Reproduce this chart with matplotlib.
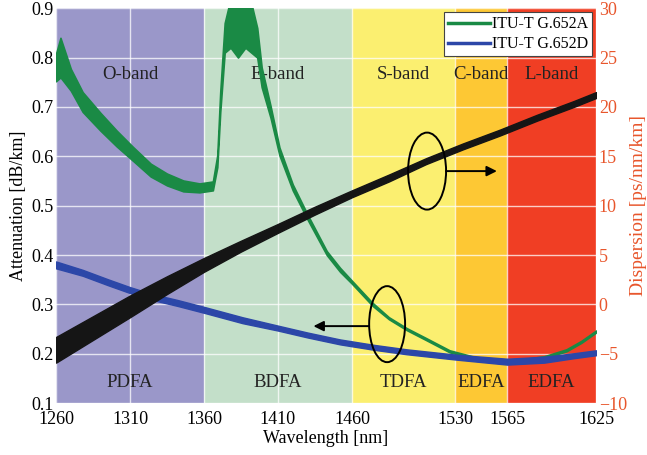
import matplotlib
matplotlib.use("Agg")
from matplotlib import pyplot as plt
from matplotlib.patches import Ellipse
from matplotlib.lines import Line2D
import numpy as np

plt.rcParams["font.family"] = ["Liberation Serif", "DejaVu Serif"]
plt.rcParams["font.size"] = 13

# bands
band_edges = [1260, 1360, 1460, 1530, 1565, 1625]
band_names = ["O-band", "E-band", "S-band", "C-band", "L-band"]
amp_names = ["PDFA", "BDFA", "TDFA", "EDFA", "EDFA"]
band_colors = ["#9a97c9", "#c3dfc9", "#fbef70", "#fdc834", "#f03e24"]

# G.652A attenuation (centre and noise half-width)
wl_a = [1260, 1263, 1270, 1278, 1290, 1301, 1312, 1324, 1335, 1346, 1357, 1366,
        1369, 1371, 1374, 1378, 1383, 1388, 1392, 1396, 1399, 1405, 1411, 1420,
        1430, 1443, 1452, 1460, 1474, 1485, 1497, 1510, 1526, 1545, 1560, 1575,
        1590, 1605, 1615, 1625]
att_a = [0.78, 0.80, 0.755, 0.71, 0.67, 0.636, 0.605, 0.572, 0.553, 0.54, 0.536, 0.54,
         0.59, 0.71, 0.84, 0.87, 0.86, 0.87, 0.86, 0.83, 0.76, 0.69, 0.61, 0.537,
         0.477, 0.404, 0.37, 0.345, 0.30, 0.272, 0.25, 0.23, 0.205, 0.19, 0.186, 0.187,
         0.193, 0.207, 0.224, 0.245]
noise_a = [0.028, 0.04, 0.022, 0.02, 0.018, 0.016, 0.014, 0.013, 0.012, 0.011, 0.009, 0.009,
           0.012, 0.02, 0.03, 0.05, 0.06, 0.05, 0.05, 0.03, 0.02, 0.012, 0.008, 0.006,
           0.005, 0.004, 0.004, 0.003, 0.003, 0.002, 0.002, 0.002, 0.002, 0.002, 0.002, 0.002,
           0.002, 0.002, 0.002, 0.002]

# G.652D attenuation
wl_d = [1260, 1278, 1295, 1310, 1325, 1342, 1360, 1386, 1410, 1430, 1452, 1475,
        1497, 1531, 1565, 1590, 1610, 1625]
att_d = [0.38, 0.364, 0.345, 0.329, 0.315, 0.303, 0.289, 0.268, 0.252, 0.238, 0.224, 0.213,
         0.204, 0.193, 0.184, 0.188, 0.196, 0.202]
noise_d = [0.007, 0.006, 0.006, 0.006, 0.006, 0.006, 0.006, 0.006, 0.005, 0.005, 0.005, 0.005,
           0.005, 0.005, 0.006, 0.006, 0.005, 0.005]

# dispersion
wl_disp = [1260, 1285, 1310, 1335, 1360, 1385, 1410, 1435, 1460, 1485, 1510, 1535,
           1560, 1585, 1610, 1625]
disp = [-4.6, -2.4, -0.2, 1.95, 4.0, 5.9, 7.7, 9.5, 11.2, 12.8, 14.5, 16.0,
        17.4, 18.9, 20.3, 21.2]
noise_disp = [1.3, 1.2, 1.1, 0.9, 0.7, 0.55, 0.45, 0.4, 0.35, 0.35, 0.3, 0.3,
              0.3, 0.3, 0.3, 0.3]

xticks = [1260, 1310, 1360, 1410, 1460, 1530, 1565, 1625]

green = "#1a8a45"
blue = "#2c47a8"
orange = "#e8562c"

fig = plt.figure(figsize=(6.47, 4.55), dpi=100)
ax = fig.add_axes([0.0866, 0.114, 0.8346, 0.868])
ax2 = ax.twinx()

for i in range(len(band_names)):
    ax.axvspan(band_edges[i], band_edges[i + 1], color=band_colors[i], zorder=0, lw=0)
    mid = (band_edges[i] + band_edges[i + 1]) / 2
    ax.text(mid, 0.765, band_names[i], ha="center", va="center", fontsize=13.5, color="#222222")
    ax.text(mid, 0.142, amp_names[i], ha="center", va="center", fontsize=13.5, color="#222222")

wa = np.array(wl_a); a = np.array(att_a); na = np.array(noise_a)
ax.fill_between(wa, a - na, a + na, color=green, lw=1.2, zorder=3)
wd = np.array(wl_d); d = np.array(att_d); nd = np.array(noise_d)
ax.fill_between(wd, d - nd, d + nd, color=blue, lw=1.0, zorder=3)

wx = np.array(wl_disp); dx = np.array(disp); nx = np.array(noise_disp)
ax2.fill_between(wx, dx - nx, dx + nx, color="#151515", lw=1.0, zorder=3)

ax.set_xlim(1260, 1625)
ax.set_ylim(0.1, 0.9)
ax2.set_ylim(-10, 30)
ax.set_xticks(xticks)
ax.set_yticks(np.arange(0.1, 0.91, 0.1))
ax.set_yticklabels(["0.1", "0.2", "0.3", "0.4", "0.5", "0.6", "0.7", "0.8", "0.9"])
ax2.set_yticks(range(-10, 31, 5))
ax.set_axisbelow(True)
ax.grid(True, color="white", lw=1.0, alpha=0.75)

ax.tick_params(axis="y", length=0, labelsize=13, pad=2)
ax.tick_params(axis="x", length=0, labelsize=13, pad=6)
ax2.tick_params(length=0, labelsize=13, labelcolor=orange, pad=2)
for s in ax.spines.values():
    s.set_visible(False)
for s in ax2.spines.values():
    s.set_visible(False)

ax.set_xlabel("Wavelength [nm]", fontsize=13, labelpad=1)
ax.set_ylabel("Attenuation [dB/km]", fontsize=13, labelpad=3)
ax2.set_ylabel("Dispersion [ps/nm/km]", fontsize=14, color=orange, labelpad=2)

# ellipses and arrows
ax2.add_patch(Ellipse((1510.8, 0.570), 25.7, 0.156, transform=ax.transData,
                      fill=False, ec="black", lw=1.4, zorder=5))
ax2.annotate("", xy=(1558, 0.570), xytext=(1523.6, 0.570),
             xycoords=ax.transData, textcoords=ax.transData,
             arrowprops=dict(arrowstyle="-|>", color="black", lw=1.4,
                             mutation_scale=15, shrinkA=0, shrinkB=0), zorder=5)
ax2.add_patch(Ellipse((1483.8, 0.260), 24.3, 0.154, transform=ax.transData,
                      fill=False, ec="black", lw=1.4, zorder=5))
ax2.annotate("", xy=(1434, 0.256), xytext=(1471.6, 0.256),
             xycoords=ax.transData, textcoords=ax.transData,
             arrowprops=dict(arrowstyle="-|>", color="black", lw=1.4,
                             mutation_scale=15, shrinkA=0, shrinkB=0), zorder=5)

handles = [Line2D([], [], color=green, lw=2.5), Line2D([], [], color=blue, lw=2.5)]
leg = ax2.legend(handles, ["ITU-T G.652A", "ITU-T G.652D"], loc="upper right",
                 fontsize=11.5, frameon=True, fancybox=False, framealpha=1,
                 edgecolor="#444444", borderaxespad=0.25, handlelength=2.6,
                 handletextpad=0.15, borderpad=0.25, labelspacing=0.25)
leg.get_frame().set_linewidth(0.8)

plt.savefig("out.png", dpi=100)
